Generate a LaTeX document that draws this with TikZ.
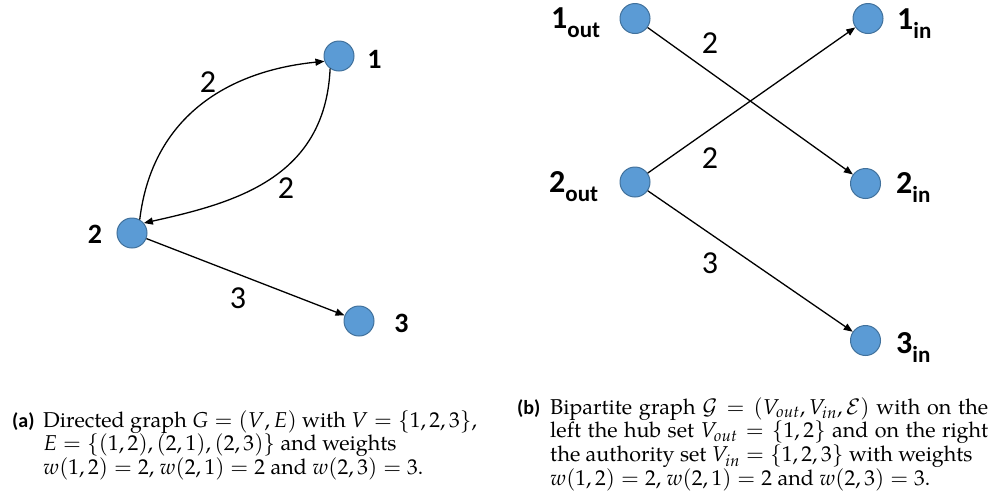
\documentclass[tikz,border=0pt]{standalone}
\usepackage{mathpazo}
\usepackage{fontspec}
\setmainfont{texgyrepagella}[Extension=.otf,UprightFont=*-regular,BoldFont=*-bold,ItalicFont=*-italic,BoldItalicFont=*-bolditalic]
\newfontfamily\calib{Carlito}
\usetikzlibrary{arrows.meta}
\definecolor{nodeblue}{HTML}{5B9BD5}
\definecolor{nodeedge}{HTML}{41719C}
\begin{document}
\begin{tikzpicture}[x=1pt,y=-1pt,
  vtx/.style={circle,fill=nodeblue,draw=nodeedge,line width=1pt,minimum size=30pt,inner sep=0pt},
  edge/.style={line width=1.3pt,-{Triangle[length=9pt,width=7pt]}},
  nlab/.style={inner sep=0pt,anchor=base,font=\calib\bfseries\fontsize{28}{30}\selectfont},
  blab/.style={inner sep=0pt,anchor=base west,font=\calib\bfseries\fontsize{32}{34}\selectfont},
  wlab/.style={inner sep=0pt,anchor=base,font=\calib\fontsize{32}{34}\selectfont},
  caplab/.style={inner sep=0pt,anchor=base west,font=\calib\bfseries\fontsize{20}{21}\selectfont},
  captext/.style={inner sep=0pt,anchor=base west,font=\fontsize{21.5}{21.5}\selectfont}]
\path[use as bounding box] (0,0) rectangle (1001,499);
\newcommand{\subl}[1]{\raisebox{-9pt}{\fontsize{23}{23}\selectfont #1}}
% left graph
\node[vtx] (a1) at (339,56) {};
\node[vtx] (a2) at (132,233) {};
\node[vtx] (a3) at (359,321) {};
\node[nlab] (la1) at (374.5,68) {1};
\node[nlab] (la2) at (95,243) {2};
\node[nlab] (la3) at (401.5,332) {3};
\draw[edge] (a2.60) .. controls +(12,-100) and +(-100,10) .. (a1.200);
\draw[edge] (a1.235) .. controls +(-5,110) and +(90,-20) .. (a2.40);
\draw[edge] (a2) -- (a3);
\node[wlab] (wa1) at (208,92) {2};
\node[wlab] (wa2) at (286,198) {2};
\node[wlab] (wa3) at (238,308) {3};
% right graph
\node[vtx] (b1o) at (635,18.5) {};
\node[vtx] (b2o) at (635,182) {};
\node[vtx] (b1i) at (868,18.5) {};
\node[vtx] (b2i) at (865.5,183.5) {};
\node[vtx] (b3i) at (865.5,340.5) {};
\node[blab] (lb1o) at (551,28) {1\subl{out}};
\node[blab] (lb2o) at (549,192) {2\subl{out}};
\node[blab] (lb1i) at (897,29) {1\subl{in}};
\node[blab] (lb2i) at (896,193) {2\subl{in}};
\node[blab] (lb3i) at (896,353) {3\subl{in}};
\draw[edge] (b1o) -- (b2i);
\draw[edge] (b2o) -- (b1i);
\draw[edge] (b2o) -- (b3i);
\node[wlab] (wb1) at (710,53) {2};
\node[wlab] (wb2) at (710,168) {2};
\node[wlab] (wb3) at (710,273) {3};
% captions
\node[caplab] (capa) at (12,427) {(a)};
\node[captext] (capta) at (43,427) {\parbox[t]{445pt}{Directed graph $G=(V,E)$ with $V=\{1,2,3\}$,\\
$E=\{(1,2),(2,1),(2,3)\}$ and weights\\
$w(1,2)=2$, $w(2,1)=2$ and $w(2,3)=3$.}};
\node[caplab] (capb) at (517,414) {(b)};
\node[captext] (captb) at (550,414) {\parbox[t]{438pt}{Bipartite graph $\mathcal{G}=(V_{out},V_{in},\mathcal{E})$ with on the\linebreak
left the hub set $V_{out}=\{1,2\}$ and on the right\linebreak
the authority set $V_{in}=\{1,2,3\}$ with weights\\
$w(1,2)=2$, $w(2,1)=2$ and $w(2,3)=3$.}};
\end{tikzpicture}
\end{document}
